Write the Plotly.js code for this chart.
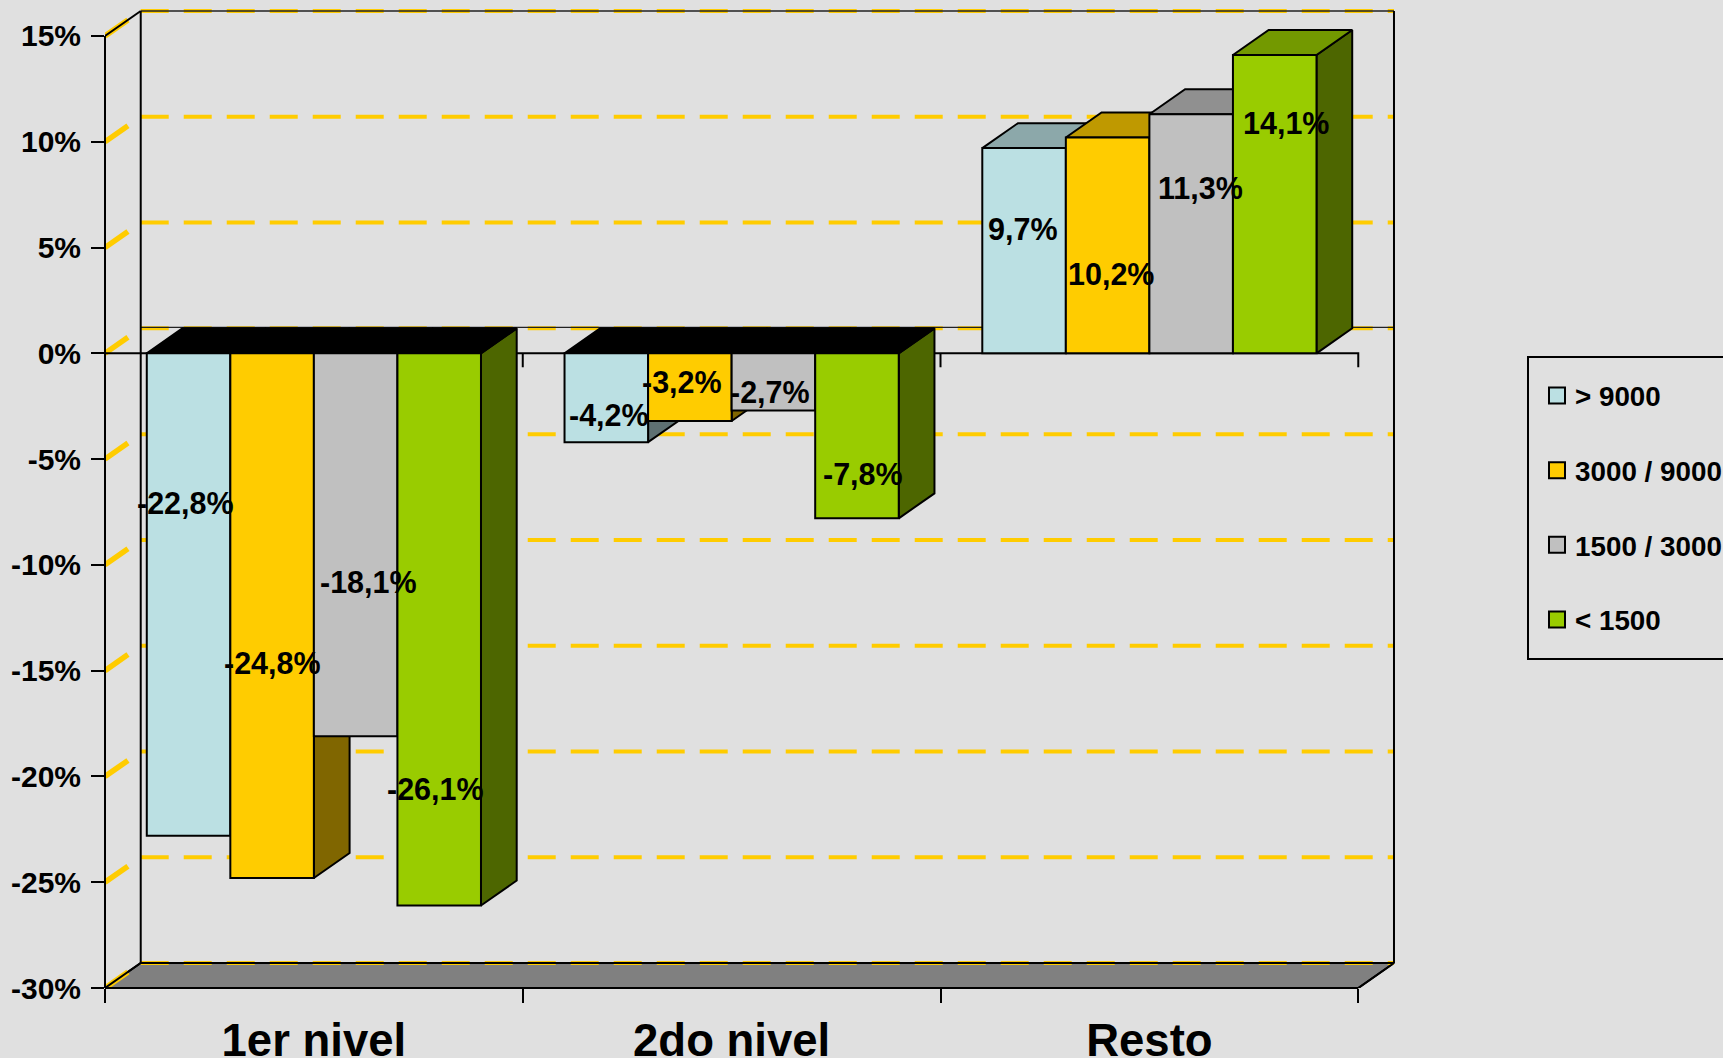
<!DOCTYPE html>
<html>
<head>
<meta charset="utf-8">
<script src="https://cdn.plot.ly/plotly-3.0.1.min.js"></script>
<style>html,body{margin:0;padding:0;background:#E0E0E0;overflow:hidden}#chart{width:1723px;height:1058px}</style>
</head>
<body>
<div id="chart"></div>
<script>
// ---- data ----
const categories = ["1er nivel", "2do nivel", "Resto"];
const seriesNames = ["> 9000", "3000 / 9000", "1500 / 3000", "< 1500"];
const valuesA = [-22.8, -4.2, 9.7];
const valuesB = [-24.8, -3.2, 10.2];
const valuesC = [-18.1, -2.7, 11.3];
const valuesD = [-26.1, -7.8, 14.1];
const tickValues = [15, 10, 5, 0, -5, -10, -15, -20, -25, -30];
const tickLabels = ["15%", "10%", "5%", "0%", "-5%", "-10%", "-15%", "-20%", "-25%", "-30%"];

// ---- styling / layout constants ----
const frontColors = ["#BBE0E3", "#FFCC00", "#C0C0C0", "#99CC00"];
const topColors = ["#8CA8AA", "#BF9900", "#909090", "#739900"];
const sideColors = ["#5E7072", "#806600", "#606060", "#4D6600"];
const BG = "#E0E0E0", FONT = '"Liberation Sans", Arial, sans-serif';
const DX = 0.0855, DY = 1.18;            // 3-D depth in axis units
const X0 = -0.5, X1 = 2.5, Y0 = -30, Y1 = 15;
const XMAX = X1 + DX + 0.0096, YMAX = Y1 + DY + 0.189;  // small headroom so edge lines are not clipped
const GAP = 0.2, BAR = (1 - GAP) / 4;    // bar geometry per category
const PLOT_W = 1293, PLOT_H = 981;
// where the reference places each value label (same order as the values, by series)
const labelXA = [-0.307, 0.706, 1.698], labelYA = [-7.08, -2.92, 5.89];
const labelXB = [-0.099, 0.882, 1.908], labelYB = [-14.62, -1.36, 3.77];
const labelXC = [0.130, 1.092, 2.122], labelYC = [-10.83, -1.83, 7.81];
const labelXD = [0.292, 1.314, 2.327], labelYD = [-20.6, -5.69, 10.89];

const allValues = [valuesA, valuesB, valuesC, valuesD];
const labelX = [labelXA, labelXB, labelXC, labelXD];
const labelY = [labelYA, labelYB, labelYC, labelYD];

const traces = [];
const deco = (x, y, extra) => Object.assign({
  type: "scatter", mode: "lines", x, y, xaxis: "x", yaxis: "y",
  showlegend: false, hoverinfo: "skip", cliponaxis: false,
  line: {color: "#000", width: 2}
}, extra);

// floor
traces.push(deco([X0, X1, X1 + DX, X0 + DX, X0], [Y0, Y0, Y0 + DY, Y0 + DY, Y0],
  {fill: "toself", fillcolor: "#808080", line: {color: "#000", width: 2}}));

// gridlines: one dash on the side wall, dashes along the back wall
const sx = [], sy = [], gx = [], gy = [];
tickValues.forEach(v => {
  sx.push(X0, X0 + DX, null);
  sy.push(v, v + DY, null);
  gx.push(X0 + DX, X1 + DX, null);
  gy.push(v + DY, v + DY, null);
});
traces.push(deco(sx, sy, {line: {color: "#FFCC00", width: 5.5, dash: "28px,100px"}}));
traces.push(deco(gx, gy, {line: {color: "#FFCC00", width: 4, dash: "28px,15px"}}));

// back wall thin lines: top edge and zero plane
traces.push(deco([X0 + DX, X1 + DX, null, X0 + DX, X1 + DX], [Y1 + DY, Y1 + DY, null, DY + 0.05, DY + 0.05],
  {line: {color: "#222", width: 1.3}}));

// frame lines
const fx = [X0, X0 + DX, null, X1 + DX, X1 + DX, null, X0 + DX, X0 + DX, null, X1 + DX, X1, null, X0, X0 + DX, null, X0 + DX, X1 + DX];
const fy = [Y1, Y1 + DY, null, Y1 + DY, Y0 + DY, null, Y1 + DY, Y0 + DY, null, Y0 + DY, Y0, null, Y0, Y0 + DY, null, Y0 + DY, Y0 + DY];
traces.push(deco(fx, fy));

// horizontal axis at zero with its ticks
const zeroTick = -0.66;
traces.push(deco(
  [X0, X1, X1, null, 0.5, 0.5, null, 1.5, 1.5],
  [0, 0, zeroTick, null, 0, zeroTick, null, 0, zeroTick]));

// 3-D faces derived from the values
const faceLine = {color: "#000", width: 2};
allValues.forEach((vals, s) => {
  vals.forEach((v, c) => {
    const xl = c - 0.5 + GAP / 2 + s * BAR, xr = xl + BAR;
    traces.push(deco(
      [xr, xr + DX, xr + DX, xr, xr],
      [0, DY, v + DY, v, 0],
      {fill: "toself", fillcolor: sideColors[s], line: faceLine, cliponaxis: true}));
    const top = Math.max(v, 0);
    traces.push(deco(
      [xl, xl + DX, xr + DX, xr, xl],
      [top, top + DY, top + DY, top, top],
      {fill: "toself", fillcolor: v < 0 ? "#000" : topColors[s], line: faceLine, cliponaxis: true}));
  });
});

// front faces: real bars, on an overlaying category axis
allValues.forEach((vals, s) => {
  traces.push({
    type: "bar", name: seriesNames[s], x: categories, y: vals,
    xaxis: "x2", yaxis: "y2", legendgroup: "g" + s,
    marker: {color: frontColors[s], line: {color: "#000", width: 2}}
  });
});

// value labels
const annotations = [];
allValues.forEach((vals, s) => vals.forEach((v, c) => {
  annotations.push({
    xref: "x", yref: "y", x: labelX[s][c], y: labelY[s][c], showarrow: false,
    xanchor: "center", yanchor: "middle",
    text: v.toFixed(1).replace(".", ",") + "%",
    font: {family: FONT, size: 30.5, color: "#000", weight: 700}
  });
}));

// front edges run along the plot border, so they are drawn unclipped in paper units
const xFrac = (X1 - X0) / (XMAX - X0), yFrac = (Y1 - Y0) / (YMAX - Y0);
const edge = {type: "line", xref: "paper", yref: "paper", layer: "above", line: {color: "#000", width: 2}};
const shapes = [
  Object.assign({}, edge, {x0: 0, x1: 0, y0: 0, y1: yFrac}),
  Object.assign({}, edge, {x0: 0, x1: xFrac, y0: 0, y1: 0}),
  {
    type: "rect", xref: "paper", yref: "paper", layer: "below",
    x0: (1528 - 105) / PLOT_W, x1: (1760 - 105) / PLOT_W,
    y0: (988 - 659) / PLOT_H, y1: (988 - 357) / PLOT_H,
    line: {color: "#000", width: 2}, fillcolor: "rgba(0,0,0,0)"
  }
];

const tickFont = {family: FONT, size: 30, color: "#000", weight: 700};
const layout = {
  width: 1723, height: 1058,
  paper_bgcolor: BG, plot_bgcolor: BG,
  margin: {l: 105, r: 325, t: 7, b: 70, pad: 0, autoexpand: false},
  barmode: "group", bargap: GAP, bargroupgap: 0,
  hovermode: false,
  xaxis: {
    type: "linear", range: [X0, XMAX], showgrid: false, zeroline: false, showline: false,
    tickmode: "array", tickvals: [-0.5, 0.5, 1.5, 2.5], ticktext: ["", "", "", ""],
    ticks: "outside", ticklen: 14, tickwidth: 2, tickcolor: "#000", fixedrange: true
  },
  yaxis: {
    type: "linear", range: [Y0, YMAX], showgrid: false, zeroline: false, showline: false,
    tickmode: "array", tickvals: tickValues, ticktext: tickLabels, tickfont: tickFont,
    ticks: "outside", ticklen: 13, tickwidth: 2, tickcolor: "#000", ticklabelstandoff: 4, fixedrange: true
  },
  xaxis2: {
    type: "category", overlaying: "x", anchor: "y2", side: "bottom",
    categoryorder: "array", categoryarray: categories, range: [X0, XMAX],
    showgrid: false, zeroline: false, showline: false, ticks: "",
    tickangle: 0, tickfont: {family: FONT, size: 45.5, color: "#000", weight: 700},
    ticklabelstandoff: 21, fixedrange: true
  },
  yaxis2: {
    type: "linear", overlaying: "y", anchor: "x2", range: [Y0, YMAX],
    showgrid: false, zeroline: false, showline: false, showticklabels: false, ticks: "", fixedrange: true
  },
  legend: {
    x: (1535 - 105) / PLOT_W, y: (988 - 371) / PLOT_H, xanchor: "left", yanchor: "top",
    bgcolor: "rgba(0,0,0,0)", borderwidth: 0, tracegroupgap: 35.5, traceorder: "grouped",
    font: {family: FONT, size: 27.8, color: "#000", weight: 700}, itemclick: false, itemdoubleclick: false
  },
  shapes,
  annotations
};

Plotly.newPlot("chart", traces, layout, {displayModeBar: false}).then(() => {
  document.querySelectorAll(".legend .legendpoints path").forEach(p => {
    p.setAttribute("d", "M10,8H-6V-8H10Z");
  });
});
</script>
</body>
</html>
